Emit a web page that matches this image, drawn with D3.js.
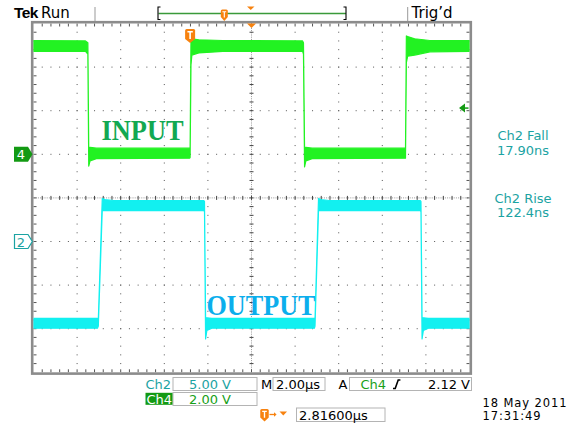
<!DOCTYPE html>
<html>
<head>
<meta charset="utf-8">
<script src="https://cdn.jsdelivr.net/npm/d3@7"></script>
<style>
  body { margin: 0; background: #fff; }
  svg { display: block; font-family: "DejaVu Sans", sans-serif; }
</style>
</head>
<body>
<svg id="scope" width="578" height="423"></svg>
<script>
// horizontal: 2.00 us/div, trigger point (t = 0) sits 2.816 us left of center
const TIME_PER_DIV = 2.0;
const TRIG_DELAY = 2.816;
// Ch4 = input, Ch2 = output. ground marker position in divisions from center
const CH4_VDIV = 2.0, CH4_GND = 1;
const CH2_VDIV = 5.0, CH2_GND = -1;
const TRIG_LEVEL = 2.12;

// peak detect envelopes: time (us), min (V), max (V)
const ch4Time = [-7.184, -4.80, -4.69, -4.65, -4.59, -4.30, -0.03, 0.00, 0.04, 0.08, 0.40, 1.50,
  5.16, 5.20, 5.25, 5.31, 5.60, 9.88, 9.92, 9.98, 10.30, 11.00, 12.816];
const ch4Min = [4.72, 4.72, 4.60, -0.54, -0.30, -0.20, -0.18, -0.15, 4.10, 4.55, 4.65, 4.72,
  4.72, 4.60, -0.58, -0.30, -0.20, -0.18, 4.20, 4.50, 4.55, 4.70, 4.72];
const ch4Max = [5.22, 5.20, 5.12, 0.30, 0.32, 0.28, 0.28, 0.30, 5.30, 5.30, 5.25, 5.22,
  5.20, 5.12, 0.30, 0.32, 0.28, 0.28, 5.43, 5.40, 5.30, 5.22, 5.22];

const ch2Time = [-7.184, -4.25, -4.21, -4.03, -3.90, -3.50, 0.63, 0.66, 0.71, 0.77, 1.00,
  5.70, 5.73, 5.89, 6.00, 6.40, 10.56, 10.59, 10.64, 10.70, 10.93, 12.816];
const ch2Min = [-9.95, -9.95, -9.70, 3.55, 3.55, 3.55, 3.55, 3.40, -11.18, -10.20, -9.95,
  -9.95, -9.70, 3.55, 3.55, 3.55, 3.55, 3.40, -11.18, -10.20, -9.95, -9.95];
const ch2Max = [-8.81, -8.81, -8.90, 4.93, 4.80, 4.70, 4.68, 4.60, -8.75, -8.75, -8.81,
  -8.81, -8.90, 4.93, 4.80, 4.70, 4.68, 4.60, -8.75, -8.75, -8.81, -8.81];

const measNames = ["Ch2 Fall", "Ch2 Rise"];
const measValues = ["17.90ns", "122.4ns"];

const GREEN = "#22f222", CYAN = "#12f0f0", TEAL = "#1ba3a3", DGREEN = "#139a13", ORANGE = "#f7820f";

var svg = d3.select("#scope");

const L = 33.5, R = 469.5, T = 23.5, B = 372.3;
var x = d3.scaleLinear().domain([TRIG_DELAY - 5 * TIME_PER_DIV, TRIG_DELAY + 5 * TIME_PER_DIV]).range([L, R]);
var gx = d3.scaleLinear().domain([0, 10]).range([L, R]);
var gy = d3.scaleLinear().domain([-4, 4]).range([B, T]);
var ch4Y = v => gy(CH4_GND + v / CH4_VDIV);
var ch2Y = v => gy(CH2_GND + v / CH2_VDIV);

// ---- graticule ----
var grid = svg.append("g");
var minorX = d3.range(1, 50), minorY = d3.range(1, 40);
[1, 2, 3, 4, 6, 7, 8, 9].forEach(i => {
  grid.selectAll(null).data(minorY).enter().append("rect")
    .attr("x", gx(i) - 0.5).attr("y", d => gy(-4 + d / 5) - 0.5)
    .attr("width", 1).attr("height", 1).attr("fill", "#555");
});
[-3, -2, -1, 1, 2, 3].forEach(j => {
  grid.selectAll(null).data(minorX).enter().append("rect")
    .attr("x", d => gx(d / 5) - 0.5).attr("y", gy(j) - 0.5)
    .attr("width", 1).attr("height", 1).attr("fill", "#555");
});
// center cross
grid.append("line").attr("x1", gx(5)).attr("x2", gx(5)).attr("y1", T).attr("y2", B)
  .attr("stroke", "#999").attr("stroke-dasharray", "1,1.2");
grid.append("line").attr("x1", L).attr("x2", R).attr("y1", gy(0)).attr("y2", gy(0))
  .attr("stroke", "#999").attr("stroke-dasharray", "1,1.2");
grid.selectAll(null).data(minorY).enter().append("line")
  .attr("x1", gx(5) - 2).attr("x2", gx(5) + 2).attr("y1", d => gy(-4 + d / 5)).attr("y2", d => gy(-4 + d / 5))
  .attr("stroke", "#444");
grid.selectAll(null).data(minorX).enter().append("line")
  .attr("y1", gy(0) - 2).attr("y2", gy(0) + 2).attr("x1", d => gx(d / 5)).attr("x2", d => gx(d / 5))
  .attr("stroke", "#444");
// border ticks
grid.selectAll(null).data(minorX).enter().append("path")
  .attr("d", d => `M${gx(d / 5)},${T}v3M${gx(d / 5)},${B}v-3`).attr("stroke", "#555");
grid.selectAll(null).data(minorY).enter().append("path")
  .attr("d", d => `M${L},${gy(-4 + d / 5)}h3M${R},${gy(-4 + d / 5)}h-3`).attr("stroke", "#555");
svg.append("rect").attr("x", L - 1.3).attr("y", T - 1.3).attr("width", R - L + 2.6).attr("height", B - T + 2.6)
  .attr("fill", "none").attr("stroke", "#8c8c8c").attr("stroke-width", 2.6);

// ---- traces ----
svg.append("clipPath").attr("id", "plot").append("rect")
  .attr("x", L).attr("y", T).attr("width", R - L).attr("height", B - T);

var drawTrace = (times, mins, maxs, yScale, color) => {
  var pts = times.map((t, i) => ({t: t, lo: mins[i], hi: maxs[i]}));
  var area = d3.area().x(d => x(d.t)).y0(d => yScale(d.lo)).y1(d => yScale(d.hi));
  svg.append("path").attr("d", area(pts)).attr("clip-path", "url(#plot)")
    .attr("fill", color).attr("stroke", color).attr("stroke-width", 1.2).attr("stroke-linejoin", "round");
};
drawTrace(ch4Time, ch4Min, ch4Max, ch4Y, GREEN);
drawTrace(ch2Time, ch2Min, ch2Max, ch2Y, CYAN);

// annotations
svg.append("text").attr("x", 101.5).attr("y", 140).attr("textLength", 82).attr("lengthAdjust", "spacingAndGlyphs")
  .attr("font-family", "Liberation Serif, serif").attr("font-weight", "bold").attr("font-size", 29)
  .attr("fill", "#12a852").text("INPUT");
svg.append("text").attr("x", 206.5).attr("y", 315).attr("textLength", 109).attr("lengthAdjust", "spacingAndGlyphs")
  .attr("font-family", "Liberation Serif, serif").attr("font-weight", "bold").attr("font-size", 29)
  .attr("fill", "#0caeec").text("OUTPUT");

// ---- channel markers ----
var y4 = ch4Y(0), y2 = ch2Y(0);
svg.append("path").attr("d", `M14,${y4 - 7.5}h14l4.5,7.5l-4.5,7.5h-14z`).attr("fill", DGREEN);
svg.append("text").attr("x", 21).attr("y", y4 + 5).attr("text-anchor", "middle").attr("font-size", 13)
  .attr("fill", "#fff").text("4");
svg.append("path").attr("d", `M14.5,${y2 - 7}h13.5l4.3,7l-4.3,7h-13.5z`).attr("fill", "#fff")
  .attr("stroke", TEAL).attr("stroke-width", 1.2);
svg.append("text").attr("x", 21).attr("y", y2 + 5).attr("text-anchor", "middle").attr("font-size", 13)
  .attr("fill", TEAL).text("2");

// trigger level arrow (right edge)
var yt = ch4Y(TRIG_LEVEL);
svg.append("path").attr("d", `M459,${yt}l6,-4.5v9z`).attr("fill", DGREEN);
svg.append("line").attr("x1", 464).attr("x2", 468.5).attr("y1", yt).attr("y2", yt)
  .attr("stroke", DGREEN).attr("stroke-width", 1.5);

// trigger position marker + center marker
var trigMark = (g, cx, top, w, h) => {
  g.append("path").attr("d", `M${cx - w / 2},${top + 1.5}q0,-1.5 1.5,-1.5h${w - 3}q1.5,0 1.5,1.5v${h - 4}l-${w / 2},4l-${w / 2},-4z`)
    .attr("fill", ORANGE);
  g.append("path").attr("d", `M${cx - w * 0.27},${top + h * 0.22}h${w * 0.54}M${cx},${top + h * 0.22}v${h * 0.58}`)
    .attr("stroke", "#fff").attr("stroke-width", w * 0.16);
};
trigMark(svg, x(0), 29, 10, 12.5);
svg.append("path").attr("d", `M${gx(5) - 4.5},${T}h9l-4.5,4.5z`).attr("fill", ORANGE);

// ---- top status bar ----
svg.append("text").attr("x", 14).attr("y", 17.5).attr("font-family", "Liberation Sans, sans-serif")
  .attr("font-weight", "bold").attr("font-size", 15.5).attr("letter-spacing", -0.6).attr("fill", "#000").text("Tek");
svg.append("text").attr("x", 41).attr("y", 17.5).attr("font-size", 15).attr("fill", "#000").text("Run");
svg.append("text").attr("x", 411.5).attr("y", 17.5).attr("font-size", 15).attr("fill", "#000").text("Trig\u2019d");
svg.append("path").attr("d", "M95,7v14M407.7,7v14").attr("stroke", "#999");
svg.append("line").attr("x1", 158.5).attr("x2", 346).attr("y1", 13.5).attr("y2", 13.5)
  .attr("stroke", "#3a9a3a").attr("stroke-width", 1.3);
svg.append("path").attr("d", "M160.5,7h-2.5v12.5h2.5M343.5,7h2.5v12.5h-2.5").attr("fill", "none")
  .attr("stroke", "#000").attr("stroke-width", 1.1);
trigMark(svg, 224.3, 9.5, 7, 10);
svg.append("path").attr("d", "M247,6.5h7.5l-3.75,3.5z").attr("fill", ORANGE);

// ---- measurements ----
svg.selectAll("text.mname").data(measNames).enter().append("text")
  .attr("x", 523).attr("y", (d, i) => 140 + i * 62.5).attr("text-anchor", "middle")
  .attr("font-size", 13).attr("fill", TEAL).text(d => d);
svg.selectAll("text.mval").data(measValues).enter().append("text")
  .attr("x", 523).attr("y", (d, i) => 154.5 + i * 62).attr("text-anchor", "middle")
  .attr("font-size", 13).attr("fill", TEAL).text(d => d);

// ---- bottom readouts ----
var box = (x0, y0, w, h) => svg.append("rect").attr("x", x0).attr("y", y0).attr("width", w).attr("height", h)
  .attr("fill", "#fff").attr("stroke", "#b4b4b4");
box(173, 377.5, 84, 13);
box(273, 377.5, 52, 13);
box(349.5, 377.5, 122, 13);
box(173, 392.5, 84, 13);
box(296.5, 408, 88.5, 13.5);
svg.append("rect").attr("x", 145.5).attr("y", 392.8).attr("width", 27).attr("height", 12).attr("fill", DGREEN);

var label = (tx, ty, s, color, anchor) => svg.append("text").attr("x", tx).attr("y", ty)
  .attr("font-size", 13).attr("fill", color).attr("text-anchor", anchor || "start").text(s);
label(145.5, 389, "Ch2", TEAL);
label(189, 389, (CH2_VDIV).toFixed(2) + " V", TEAL);
label(261, 389, "M", "#000");
label(276, 389, TIME_PER_DIV.toFixed(2) + "\u00b5s", "#000");
label(338.5, 389, "A", "#000");
label(360.5, 389, "Ch4", "#18a018");
label(470, 389, TRIG_LEVEL.toFixed(2) + " V", "#000", "end");
svg.append("path").attr("d", "M393,388.5h2.2l3,-8.5h2.2").attr("fill", "none").attr("stroke", "#000").attr("stroke-width", 1.6);
label(146.5, 403.5, "Ch4", "#fff");
label(189, 403.5, (CH4_VDIV).toFixed(2) + " V", "#18a018");
label(299, 419.5, TRIG_DELAY.toFixed(5) + "\u00b5s", "#000");
trigMark(svg, 264.5, 409, 8.5, 11);
svg.append("path").attr("d", "M269.5,414.5h6").attr("stroke", ORANGE).attr("stroke-width", 1.3);
svg.append("path").attr("d", "M274,412.3l2.6,2.2l-2.6,2.2z").attr("fill", ORANGE);
svg.append("path").attr("d", "M279.5,411.5h7.5l-3.75,4z").attr("fill", ORANGE);
label(482.5, 406.5, "18 May 2011", "#000").attr("font-size", 11.5).attr("letter-spacing", 0.9);
label(482.5, 420, "17:31:49", "#000").attr("font-size", 11.5).attr("letter-spacing", 0.9);
</script>
</body>
</html>
